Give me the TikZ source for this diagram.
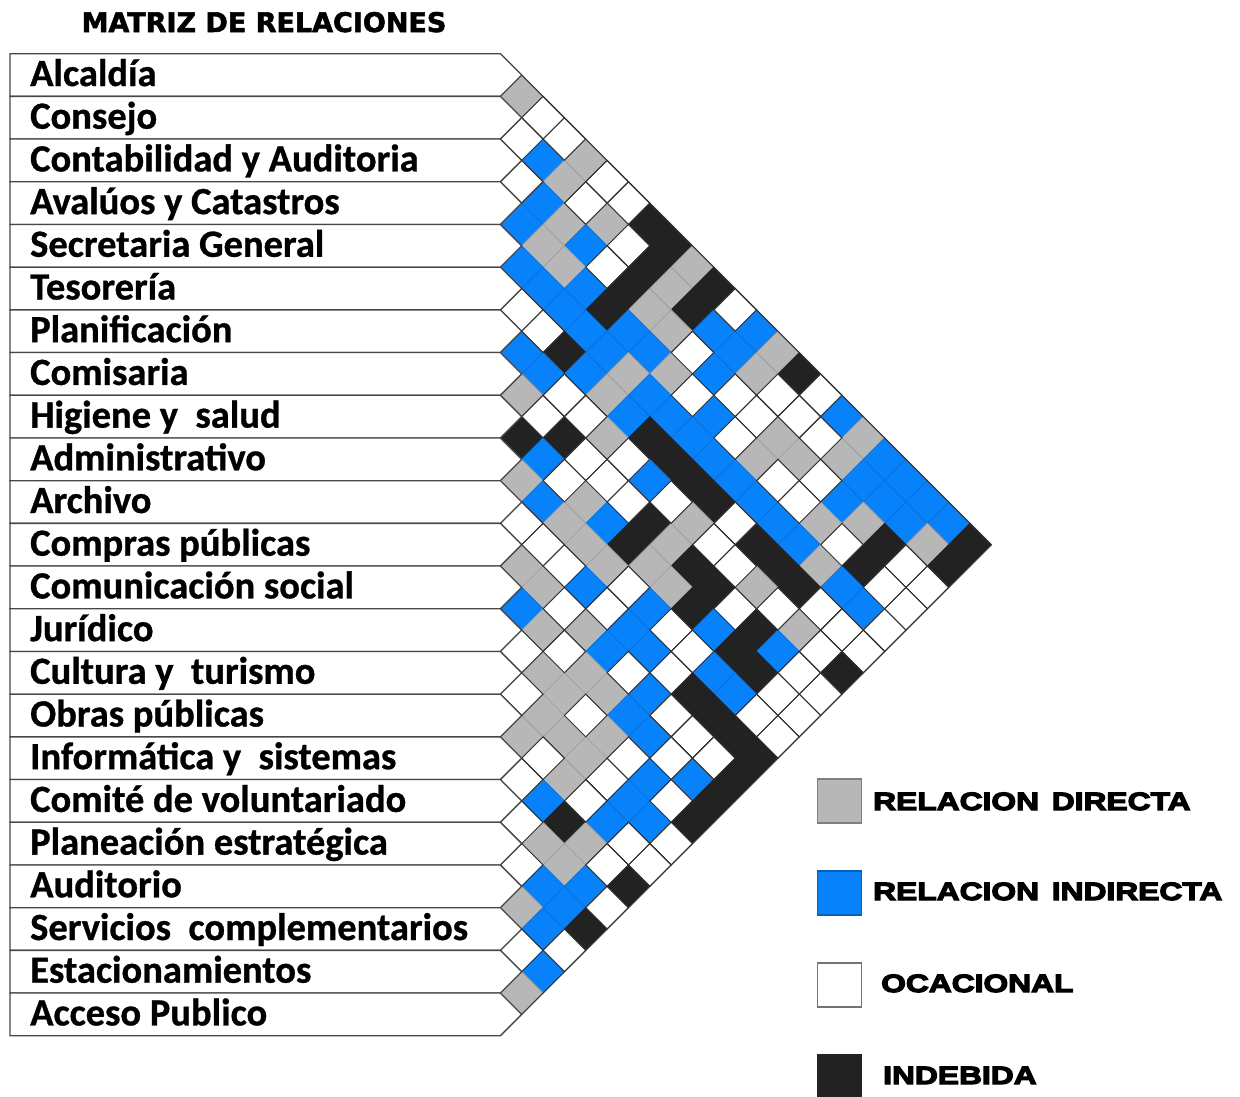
\documentclass[tikz,border=0pt]{standalone}
\usepackage{fontspec}
\setmainfont{Carlito}[BoldFeatures={FakeBold=0.8}]
\newfontfamily\titlefont{DejaVu Sans}[BoldFeatures={FakeBold=2}]
\newfontfamily\keyfont{Liberation Sans}[FakeStretch=1.27, BoldFeatures={FakeBold=5}]

\definecolor{relgray}{RGB}{183,183,183}
\definecolor{relblue}{RGB}{8,130,250}
\definecolor{relblack}{RGB}{34,34,34}
% fill and line colour for each letter of the matrix
\colorlet{cG}{relgray}   \colorlet{lG}{relgray!88!black}
\colorlet{cB}{relblue}   \colorlet{lB}{relblue!88!black}
\colorlet{cW}{white}     \colorlet{lW}{black!80}
\colorlet{cK}{relblack}  \colorlet{lK}{relblack}

\tikzset{
  cell/.style={line width=0.8pt, line join=miter},
  rowbox/.style={draw=black!72, line width=1.3pt, fill=white},
  rowlabel/.style={anchor=base west, inner sep=0pt, font=\bfseries\fontsize{38.5}{40}\selectfont},
  keybox/.style={minimum size=44pt, inner sep=0pt, draw=black!55, line width=1.2pt},
  keytext/.style={anchor=base west, inner sep=0pt, font=\keyfont\bfseries\fontsize{25}{27}\selectfont}
}

% row i, then the cells with rows i+1 ... 22
\def\relrows{%
0/{G,W,W,G,W,W,K,K,G,K,W,B,G,K,W,B,G,B,B,B,B,K},%
1/{W,B,G,W,G,W,K,G,K,B,B,G,W,W,W,G,B,B,B,G,K},%
2/{W,B,G,B,W,K,G,G,W,B,W,W,G,G,W,B,G,K,W,W},%
3/{B,G,G,B,K,B,B,G,W,B,W,G,W,W,G,W,K,W,W},%
4/{B,B,B,B,B,G,B,B,B,B,B,B,B,B,G,B,B,W},%
5/{W,W,K,B,G,B,K,K,K,K,W,K,K,K,W,W,W},%
6/{B,B,W,W,G,W,B,W,G,W,W,G,W,G,W,K},%
7/{G,W,K,W,W,W,K,G,K,K,W,K,B,W,W},%
8/{K,B,W,G,B,K,G,G,K,B,K,K,W,W},%
9/{G,B,G,G,G,W,B,W,W,B,B,W,W},%
10/{W,W,W,B,W,B,B,W,K,K,K,K},%
11/{G,G,W,G,B,W,B,W,W,W,K},%
12/{B,G,W,G,G,B,B,W,B,K},%
13/{W,G,G,W,G,W,B,W,K},%
14/{W,G,G,G,W,B,B,W},%
15/{G,W,G,W,B,W,W},%
16/{W,B,K,G,W,K},%
17/{W,G,G,B,W},%
18/{W,B,B,K},%
19/{G,B,W},%
20/{W,B},%
21/{G}}
\def\whiteletter{W}

\begin{document}
\begin{tikzpicture}[x=1pt, y=-1pt]
\useasboundingbox (0,0) rectangle (1240,1096);

% Title
\node[font=\titlefont\bfseries\fontsize{27}{30}\selectfont, anchor=base] (title) at (264,32) {MATRIZ DE RELACIONES};

% Matrix cells
\begin{scope}[shift={(500.35,75)}, x=21.35pt, y=-21.35pt]
\foreach \i/\lst in \relrows {
  \foreach \c [count=\k] in \lst {
    \filldraw[cell, fill=c\c, draw=l\c] (\k-1,2*\i+\k) -- (\k,2*\i+\k-1) -- (\k+1,2*\i+\k) -- (\k,2*\i+\k+1) -- cycle;
  }
}
% outlines of the white cells on top
\foreach \i/\lst in \relrows {
  \foreach \c [count=\k] in \lst {
    \ifx\c\whiteletter
      \draw[cell, draw=lW] (\k-1,2*\i+\k) -- (\k,2*\i+\k-1) -- (\k+1,2*\i+\k) -- (\k,2*\i+\k+1) -- cycle;
    \fi
  }
}
\end{scope}

% Outer edge of the matrix
\draw[line width=1pt, black!80] (500.35,53.65) -- (991.4,544.7) -- (521.7,1014.4);

% Row boxes and labels
\foreach \lab [count=\n from 0] in {Alcaldía, Consejo, Contabilidad y Auditoria, Avalúos y Catastros,
    Secretaria General, Tesorería, Planificación, Comisaria, Higiene y\ \ salud, Administrativo,
    Archivo, Compras públicas, Comunicación social, Jurídico, Cultura y\ \ turismo, Obras públicas,
    Informática y\ \ sistemas, Comité de voluntariado, Planeación estratégica, Auditorio,
    Servicios\ \ complementarios, Estacionamientos, Acceso Publico} {
  \pgfmathsetmacro\m{75+42.7*\n}
  \draw[rowbox] (10,\m-21.35) -- (500.35,\m-21.35) -- (521.7,\m) -- (500.35,\m+21.35) -- (10,\m+21.35) -- cycle;
  \node[rowlabel] (row\n) at (30,\m+11) {\lab};
}

% Legend
\node[keybox, fill=cG, draw=relgray!70!black] (keyG) at (839.5,801) {};
\node[keytext] (txtG) at (873,810) {RELACION\hspace{4pt} DIRECTA};
\node[keybox, fill=cB, draw=relblue!75!black] (keyB) at (839.5,893) {};
\node[keytext] (txtB) at (873,900) {RELACION\hspace{4pt} INDIRECTA};
\node[keybox, fill=cW] (keyW) at (839.5,985) {};
\node[keytext] (txtW) at (881,992) {OCACIONAL};
\node[keybox, fill=cK, draw=relblack] (keyK) at (839.5,1077) {};
\node[keytext] (txtK) at (883,1084) {INDEBIDA};

\end{tikzpicture}
\end{document}
